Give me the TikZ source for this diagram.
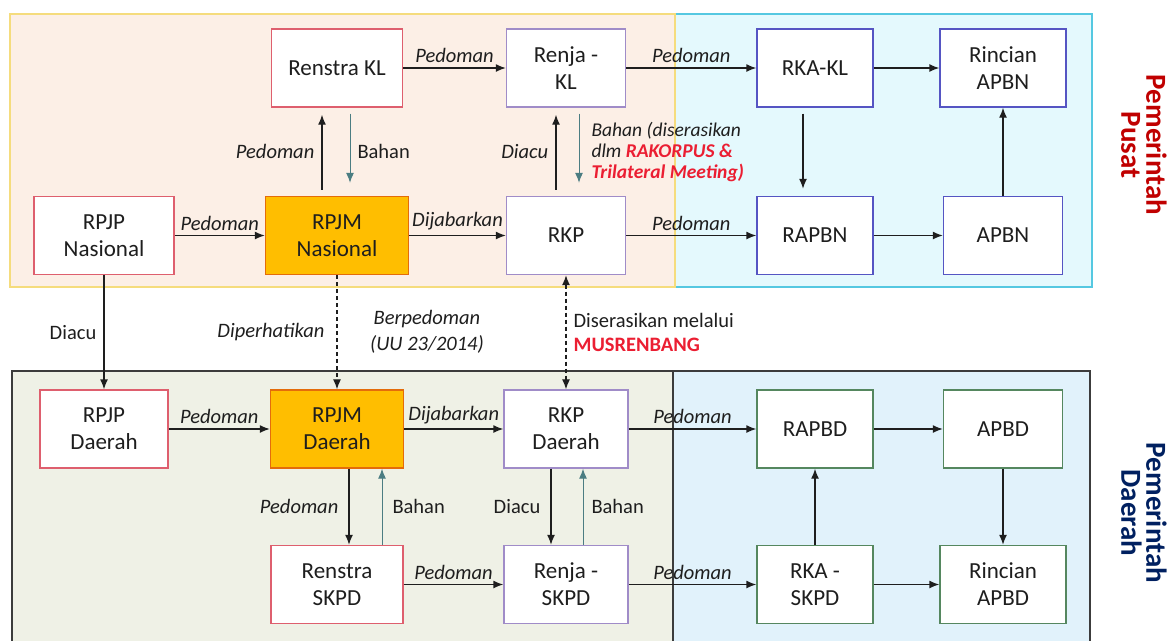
\documentclass[tikz,border=0pt]{standalone}
\usepackage{fontspec}
\setmainfont{Carlito}
\usetikzlibrary{arrows.meta, calc}

\definecolor{teks}{RGB}{30,30,30}
\definecolor{garismerah}{RGB}{222,95,110}
\definecolor{garisungu}{RGB}{160,140,200}
\definecolor{garisbiru}{RGB}{85,85,195}
\definecolor{garishijau}{RGB}{85,135,95}
\definecolor{oranye}{RGB}{255,190,0}
\definecolor{oranyetepi}{RGB}{228,108,10}
\definecolor{hijaubiru}{RGB}{75,125,130}
\definecolor{pusatbg}{RGB}{252,239,230}
\definecolor{pusattepi}{RGB}{245,220,125}
\definecolor{apbnbg}{RGB}{228,249,253}
\definecolor{apbntepi}{RGB}{85,200,225}
\definecolor{daerahbg}{RGB}{239,241,230}
\definecolor{apbdbg}{RGB}{225,242,251}
\definecolor{abutepi}{RGB}{60,60,60}
\definecolor{merahlabel}{RGB}{192,0,0}
\definecolor{birulabel}{RGB}{0,32,96}
\definecolor{merahteks}{RGB}{235,30,50}

\begin{document}
\begin{tikzpicture}[x=1pt, y=-1pt,
    kotak/.style={draw, fill=white, line width=1.4pt, align=center, text=teks,
      font=\fontsize{23}{27}\selectfont, minimum width=#1, minimum height=78, inner sep=0pt},
    kotak/.default=120,
    panah/.style={-{Latex[length=10pt,width=8pt]}, line width=1.4pt, draw=teks},
    bahan/.style={-{Latex[length=10pt,width=8pt]}, line width=1pt, draw=hijaubiru},
    dua/.style={{Latex[length=10pt,width=8pt]}-{Latex[length=10pt,width=8pt]}, line width=1.2pt, draw=teks},
    putus/.style={dash pattern=on 4pt off 3pt},
    celah/.style={shorten <=6pt, shorten >=7pt},
    lbl/.style={font=\fontsize{20.5}{24}\selectfont\itshape, text=teks, inner sep=4.5pt},
    lblr/.style={font=\fontsize{20.5}{24}\selectfont, text=teks, inner sep=4.5pt},
    sisi/.style={inner sep=7pt}]

    \useasboundingbox (0,0) rectangle (1169,640);
    \clip (0,0) rectangle (1169,640);

    % Wilayah
    \filldraw[fill=apbnbg, draw=apbntepi, line width=1.6pt] (675,14) rectangle (1092,287);
    \filldraw[fill=pusatbg, draw=pusattepi, line width=2pt] (10,14) rectangle (675,287);
    \filldraw[fill=apbdbg, draw=abutepi, line width=1.4pt] (673,371) rectangle (1090,660);
    \filldraw[fill=daerahbg, draw=abutepi, line width=1.4pt] (12,371) rectangle (673,660);

    % Pemerintah Pusat
    \node[kotak=131, draw=garismerah] (renstrakl) at (337,68) {Renstra KL};
    \node[kotak=119, draw=garisungu] (renjakl) at (566,68) {Renja -\\KL};
    \node[kotak=116, draw=garisbiru] (rkakl) at (815,68) {RKA-KL};
    \node[kotak=126, draw=garisbiru] (rincianapbn) at (1003,68) {Rincian\\APBN};
    \node[kotak=140, draw=garismerah] (rpjpnas) at (104,235.5) {RPJP\\Nasional};
    \node[kotak=143, draw=oranyetepi, fill=oranye] (rpjmnas) at (337,235.5) {RPJM\\Nasional};
    \node[kotak=119, draw=garisungu] (rkp) at (566,235.5) {RKP};
    \node[kotak=116, draw=garisbiru] (rapbn) at (815,235.5) {RAPBN};
    \node[kotak=119, draw=garisbiru] (apbn) at (1003,235.5) {APBN};

    % Pemerintah Daerah
    \node[kotak=128, draw=garismerah] (rpjpdae) at (104,429) {RPJP\\Daerah};
    \node[kotak=133, draw=oranyetepi, fill=oranye] (rpjmdae) at (337,429) {RPJM\\Daerah};
    \node[kotak=124, draw=garisungu] (rkpdae) at (566,429) {RKP\\Daerah};
    \node[kotak=116, draw=garishijau] (rapbd) at (815,429) {RAPBD};
    \node[kotak=119, draw=garishijau] (apbd) at (1003,429) {APBD};
    \node[kotak=132, draw=garismerah] (renstraskpd) at (337,584.5) {Renstra\\SKPD};
    \node[kotak=124, draw=garisungu] (renjaskpd) at (566,584.5) {Renja -\\SKPD};
    \node[kotak=116, draw=garishijau] (rkaskpd) at (815,584.5) {RKA -\\SKPD};
    \node[kotak=126, draw=garishijau] (rincianapbd) at (1003,584.5) {Rincian\\APBD};

    % Label samping
    \node[rotate=-90, align=center, text=merahlabel, font=\fontsize{29}{25}\selectfont\bfseries] (lblpusat) at (1144,145) {Pemerintah\\Pusat};
    \node[rotate=-90, align=center, text=birulabel, font=\fontsize{29}{25}\selectfont\bfseries] (lbldaerah) at (1144,513) {Pemerintah\\Daerah};

    % Panah pusat
    \draw[panah] (renstrakl) -- node[lbl, above] {Pedoman} (renjakl);
    \draw[panah] (renjakl) -- node[lbl, above] {Pedoman} (rkakl);
    \draw[panah] (rkakl) -- (rincianapbn);
    \draw[panah] (rpjpnas) -- node[lbl, above] {Pedoman} (rpjmnas);
    \draw[panah] (rpjmnas) -- node[lbl, above] {Dijabarkan} (rkp);
    \draw[panah] (rkp) -- node[lbl, above] {Pedoman} (rapbn);
    \draw[panah] (rapbn) -- (apbn);
    \draw[panah] (apbn) -- (rincianapbn);
    \draw[panah, celah] ([xshift=-12pt]rkakl.south) -- ([xshift=-12pt]rapbn.north);
    \draw[panah, celah] ([xshift=-15pt]rpjmnas.north) -- node[lbl, left, sisi] {Pedoman} ([xshift=-15pt]renstrakl.south);
    \draw[bahan, celah, shorten >=13pt] ([xshift=13pt]renstrakl.south) -- node[lblr, right, sisi] {Bahan} ([xshift=13pt]rpjmnas.north);
    \draw[panah, celah] ([xshift=-10pt]rkp.north) -- node[lbl, left, sisi] {Diacu} ([xshift=-10pt]renjakl.south);
    \draw[bahan, celah, shorten >=13pt] ([xshift=13pt]renjakl.south) -- node[lbl, right, align=left, inner sep=12pt, font=\fontsize{19.5}{21}\selectfont\itshape]
      {Bahan (diserasikan\\dlm \textcolor{merahteks}{\bfseries RAKORPUS \&}\\\textcolor{merahteks}{\bfseries Trilateral Meeting)}} ([xshift=13pt]rkp.north);

    % Antar pusat dan daerah
    \draw[panah] (rpjpnas) -- node[lblr, left, sisi] {Diacu} (rpjpdae);
    \draw[panah, line width=1.2pt, putus] (rpjmnas) -- node[lbl, left, inner sep=12pt] {Diperhatikan}
      node[lbl, right=28pt, align=center, font=\fontsize{20.5}{26}\selectfont\itshape] {Berpedoman\\(UU 23/2014)} (rpjmdae);
    \draw[dua, putus] (rkp) -- node[lblr, right, align=left, sisi] {Diserasikan melalui\\\textcolor{merahteks}{\bfseries MUSRENBANG}} (rkpdae);

    % Panah daerah
    \draw[panah] (rpjpdae) -- node[lbl, above] {Pedoman} (rpjmdae);
    \draw[panah] (rpjmdae) -- node[lbl, above] {Dijabarkan} (rkpdae);
    \draw[panah] (rkpdae) -- node[lbl, above] {Pedoman} (rapbd);
    \draw[panah] (rapbd) -- (apbd);
    \draw[panah] (apbd) -- (rincianapbd);
    \draw[panah] (rkaskpd) -- (rapbd);
    \draw[panah] (rkaskpd) -- (rincianapbd);
    \draw[panah] (renstraskpd) -- node[lbl, above] {Pedoman} (renjaskpd);
    \draw[panah] (renjaskpd) -- node[lbl, above] {Pedoman} (rkaskpd);
    \draw[panah] ([xshift=12pt]rpjmdae.south) -- node[lbl, left, inner sep=10pt] {Pedoman} ([xshift=12pt]renstraskpd.north);
    \draw[bahan] ([xshift=45pt]renstraskpd.north) -- node[lblr, right, inner sep=10pt] {Bahan} ([xshift=45pt]rpjmdae.south);
    \draw[panah] ([xshift=-15pt]rkpdae.south) -- node[lblr, left, inner sep=10pt] {Diacu} ([xshift=-15pt]renjaskpd.north);
    \draw[bahan] ([xshift=17pt]renjaskpd.north) -- node[lblr, right, inner sep=8pt] {Bahan} ([xshift=17pt]rkpdae.south);
\end{tikzpicture}
\end{document}
